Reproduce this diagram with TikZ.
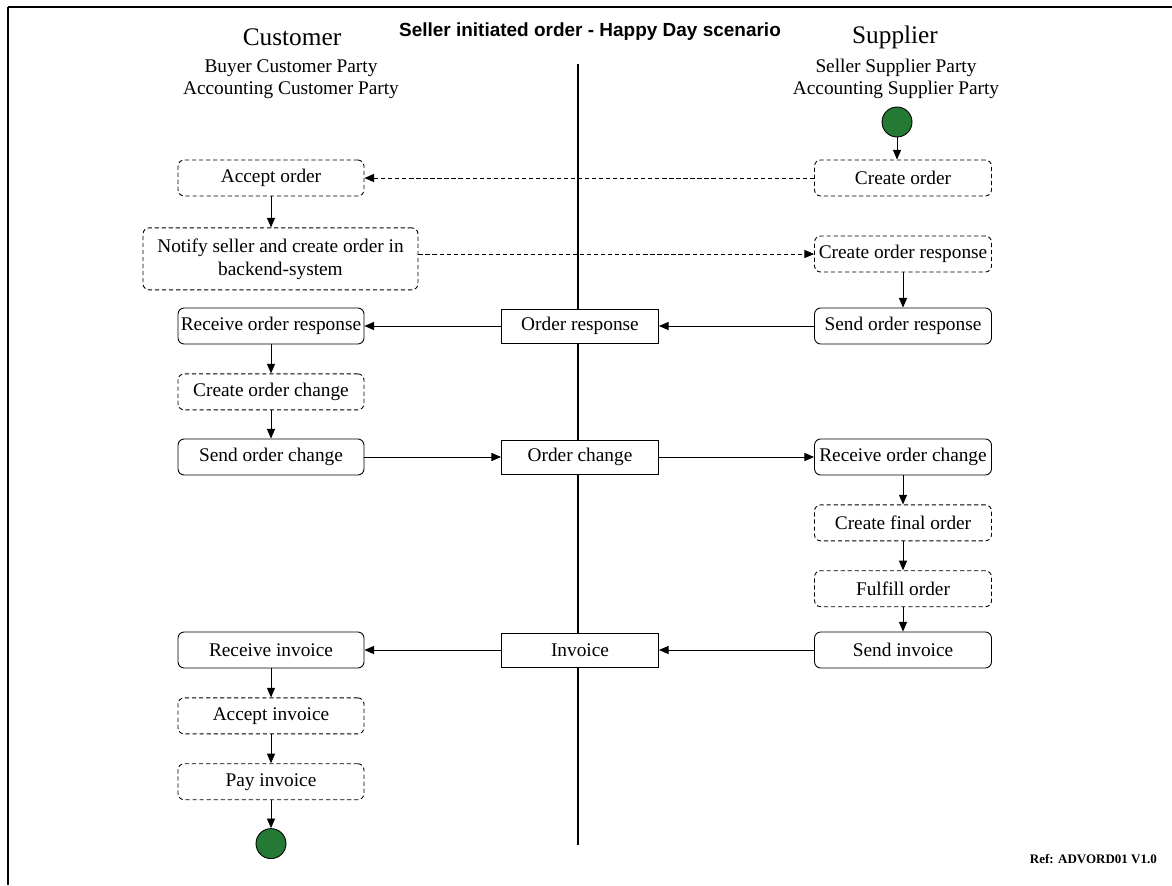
\documentclass[tikz,border=0pt]{standalone}
\usepackage{fontspec}
\setmainfont{Liberation Serif}
\newfontfamily\titlefont{Liberation Sans}
\usetikzlibrary{arrows.meta, positioning, shapes.geometric}
\definecolor{startgreen}{RGB}{36,122,52}

\begin{document}
\begin{tikzpicture}[
    x=0.02cm, y=-0.02cm,
    node distance=0.58cm,
    font=\fontsize{11}{13}\selectfont,
    action/.style={rectangle, rounded corners=3.5pt, draw, line width=0.5pt, minimum width=3.72cm, minimum height=0.72cm, inner xsep=1pt, align=center},
    task/.style={action, dash pattern=on 2.4pt off 1.6pt},
    supbox/.style={minimum width=3.54cm},
    doc/.style={rectangle, draw, line width=0.5pt, fill=white, minimum width=3.14cm, minimum height=0.68cm},
    terminal/.style={circle, draw, line width=0.5pt, fill=startgreen, minimum size=0.6cm, inner sep=0pt},
    flow/.style={line width=0.5pt, -{Triangle[length=5.5pt,width=4.6pt]}},
    msg/.style={flow, dash pattern=on 2.4pt off 1.6pt},
]
    \useasboundingbox (0,0) rectangle (1172,885);
    % frame
    \draw[line width=1.2pt] (8,7) -- (1172,7);
    \draw[line width=0.6pt] (8,7) -- (8,885);

    % headings
    \node (title) at (590,32) {\titlefont\bfseries\fontsize{10.8}{13}\selectfont Seller initiated order - Happy Day scenario};
    \node (cust) at (292,37) {\fontsize{14.4}{16}\selectfont Customer};
    \node[align=center, font=\fontsize{11}{12.5}\selectfont] (custroles) at (291,79) {Buyer Customer Party\\Accounting Customer Party};
    \node (supp) at (895,37) {\fontsize{14.4}{16}\selectfont Supplier};
    \node[align=center, font=\fontsize{11}{12.5}\selectfont] (supproles) at (896,79) {Seller Supplier Party\\Accounting Supplier Party};

    % swimlane divider
    \coordinate (lanetop) at (578,64);
    \coordinate (lanebot) at (578,845);
    \draw[line width=1.1pt] (lanetop) -- (lanebot);

    % supplier side
    \node[terminal] (start) at (897,122) {};
    \node[task, supbox] (crord) at (903,178) {Create order};
    \node[task, supbox] (crresp) at (903,254) {Create order response};
    \node[action, supbox] (sndresp) at (903,326) {Send order response};
    \node[action, supbox] (rcvchange) at (903,457) {Receive order change};
    \node[task, supbox, below=of rcvchange] (finalord) {Create final order};
    \node[task, supbox, below=of finalord] (fulfill) {Fulfill order};
    \node[action, supbox] (sndinv) at (903,650) {Send invoice};

    % documents
    \node[doc] (ordresp) at (580,326) {Order response};
    \node[doc] (ordchange) at (580,457) {Order change};
    \node[doc] (invoice) at (580,650) {Invoice};

    % customer side
    \node[task] (accord) at (271,178) {Accept order};
    \node[task, below=0.62cm of accord, xshift=0.19cm, minimum width=5.5cm, minimum height=1.24cm] (notify) {Notify seller and create order in\\backend-system};
    \node[action] (rcvresp) at (271,326) {Receive order response};
    \node[task, below=of rcvresp] (crchange) {Create order change};
    \node[action] (sndchange) at (271,457) {Send order change};
    \node[action] (rcvinv) at (271,650) {Receive invoice};
    \node[task, below=of rcvinv] (accinv) {Accept invoice};
    \node[task, below=of accinv] (payinv) {Pay invoice};
    \node[terminal, below=0.56cm of payinv] (finish) {};

    \node[anchor=east, font=\bfseries\fontsize{7.4}{9}\selectfont] (ref) at (1163,859) {Ref: ADVORD01 V1.0};

    % connectors
    \draw[flow] (start.south) -- (start.south |- crord.north);
    \draw[msg] (crord) -- (accord);
    \draw[flow] (accord.south) -- (accord.south |- notify.north);
    \draw[msg] (notify.east |- crresp.west) -- (crresp.west);
    \draw[flow] (crresp) -- (sndresp);
    \draw[flow] (sndresp) -- (ordresp);
    \draw[flow] (ordresp) -- (rcvresp);
    \draw[flow] (rcvresp) -- (crchange);
    \draw[flow] (crchange) -- (sndchange);
    \draw[flow] (sndchange) -- (ordchange);
    \draw[flow] (ordchange) -- (rcvchange);
    \draw[flow] (rcvchange) -- (finalord);
    \draw[flow] (finalord) -- (fulfill);
    \draw[flow] (fulfill) -- (sndinv);
    \draw[flow] (sndinv) -- (invoice);
    \draw[flow] (invoice) -- (rcvinv);
    \draw[flow] (rcvinv) -- (accinv);
    \draw[flow] (accinv) -- (payinv);
    \draw[flow] (payinv) -- (finish);
\end{tikzpicture}
\end{document}
